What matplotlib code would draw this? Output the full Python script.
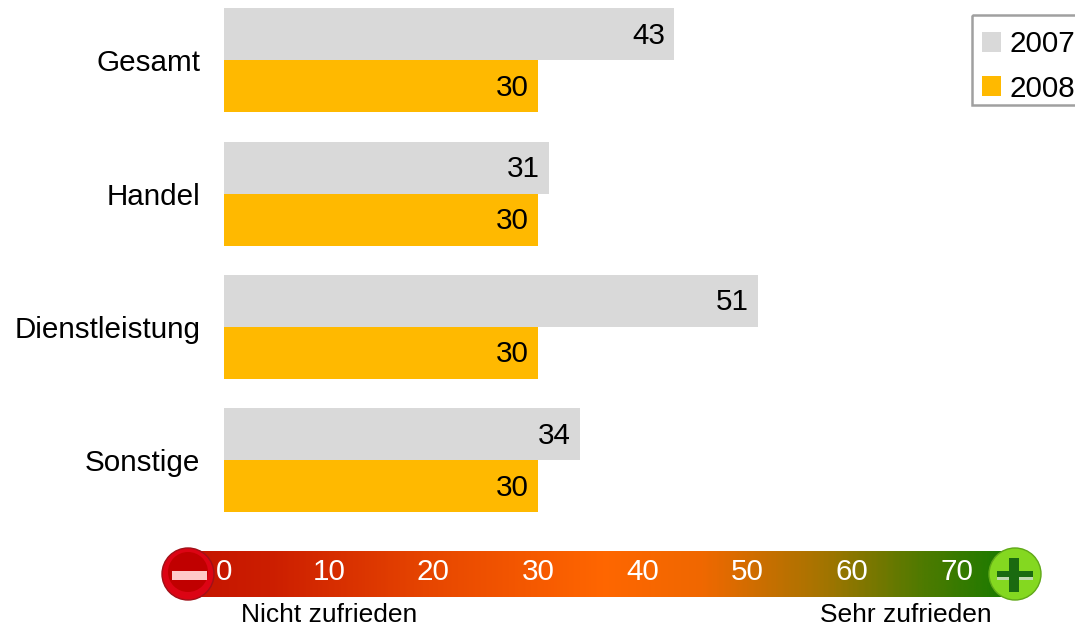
import matplotlib.pyplot as plt
import numpy as np
from matplotlib.colors import LinearSegmentedColormap
from matplotlib.patches import Circle, Rectangle

plt.rcParams['font.family'] = ['Liberation Sans', 'DejaVu Sans']

categories = ['Gesamt', 'Handel', 'Dienstleistung', 'Sonstige']
values_2007 = [43, 31, 51, 34]
values_2008 = [30, 30, 30, 30]
scale_ticks = [0, 10, 20, 30, 40, 50, 60, 70]

W, H = 1075, 626
PX = 10.47  # pixels per scale unit
FS = 21.3


def axes_px(fig, left, top, right, bottom):
    return fig.add_axes([left / W, 1 - bottom / H, (right - left) / W, (bottom - top) / H])


fig = plt.figure(figsize=(W / 100, H / 100), dpi=100)

# Bars
ax = axes_px(fig, 224, 0, W, 530)
ax.set_xlim(0, (W - 224) / PX)
ax.set_ylim((530 - 60.3) / 133.3, -60.3 / 133.3)
y = np.arange(len(categories))
h = 0.39
bars07 = ax.barh(y - h / 2, values_2007, height=h, color='#d9d9d9', label='2007')
bars08 = ax.barh(y + h / 2, values_2008, height=h, color='#ffb900', label='2008')
for bars, vals in ((bars07, values_2007), (bars08, values_2008)):
    labels = ax.bar_label(bars, labels=[str(v) for v in vals], label_type='edge', padding=-6.5,
                          fontsize=FS, color='black')
    for t in labels:
        t.set_ha('right')
        t.set_va('center_baseline')
        t.xyann = (t.xyann[0], 1.2)
ax.set_yticks(y, categories, fontsize=FS)
ax.tick_params(axis='y', length=0, pad=17)
ax.set_xticks([])
for s in ax.spines.values():
    s.set_visible(False)

# Legend
leg = ax.legend(loc='upper left', bbox_to_anchor=(971 / W, 1 - 19 / H), bbox_transform=fig.transFigure,
                fontsize=FS, frameon=False,
                handlelength=0.65, handleheight=0.65, handletextpad=0.28, labelspacing=0.55,
                borderpad=0.38, borderaxespad=0)
for p in leg.get_patches():
    p.set_linewidth(0)

# Gradient scale
cax = axes_px(fig, 185, 551, 1020, 597)
x0 = (185 - 224) / PX
x1 = (1020 - 224) / PX
cmap = LinearSegmentedColormap.from_list('scale', [(0, '#c41400'), (0.1, '#cc1e00'), (0.3, '#e84800'),
                                                   (0.5, '#ff6600'), (0.62, '#f06800'), (0.76, '#a87400'),
                                                   (0.88, '#527a00'), (1, '#127a00')])
cax.imshow(np.linspace(0, 1, 400).reshape(1, -1), cmap=cmap, aspect='auto', extent=(x0, x1, 0, 1))
cax.set_xlim(x0, x1)
cax.set_ylim(0, 1)
cax.axis('off')
for t in scale_ticks:
    cax.text(t, 0.6, str(t), color='white', fontsize=FS, ha='center', va='center_baseline')

# Icons and captions in pixel coordinates
ov = fig.add_axes([0, 0, 1, 1])
ov.set_xlim(0, W)
ov.set_ylim(H, 0)
ov.axis('off')
ov.patch.set_alpha(0)
ov.add_patch(Rectangle((972, 15), 110, 90, fc='none', ec='#a0a0a0', lw=1.8))
ov.add_patch(Circle((188, 574), 26, fc='#dc0414', ec='#a01018', lw=1))
ov.add_patch(Circle((188, 572), 20, fc='#c00000', ec='none'))
ov.add_patch(Rectangle((172, 571), 35, 9, fc='#ffc8c8', ec='none'))
ov.add_patch(Circle((1015, 574), 26, fc='#84d820', ec='#60a818', lw=1))
ov.add_patch(Rectangle((997, 571), 36, 6, fc='#1a6a10', ec='none'))
ov.add_patch(Rectangle((997, 577), 36, 3, fc='#c0d8b0', ec='none'))
ov.add_patch(Rectangle((1009, 558), 10, 34, fc='#1a6a10', ec='none'))
ov.text(329, 615, 'Nicht zufrieden', fontsize=19, ha='center', va='center')
ov.text(906, 615, 'Sehr zufrieden', fontsize=19, ha='center', va='center')

fig.savefig('out.png', dpi=100)
